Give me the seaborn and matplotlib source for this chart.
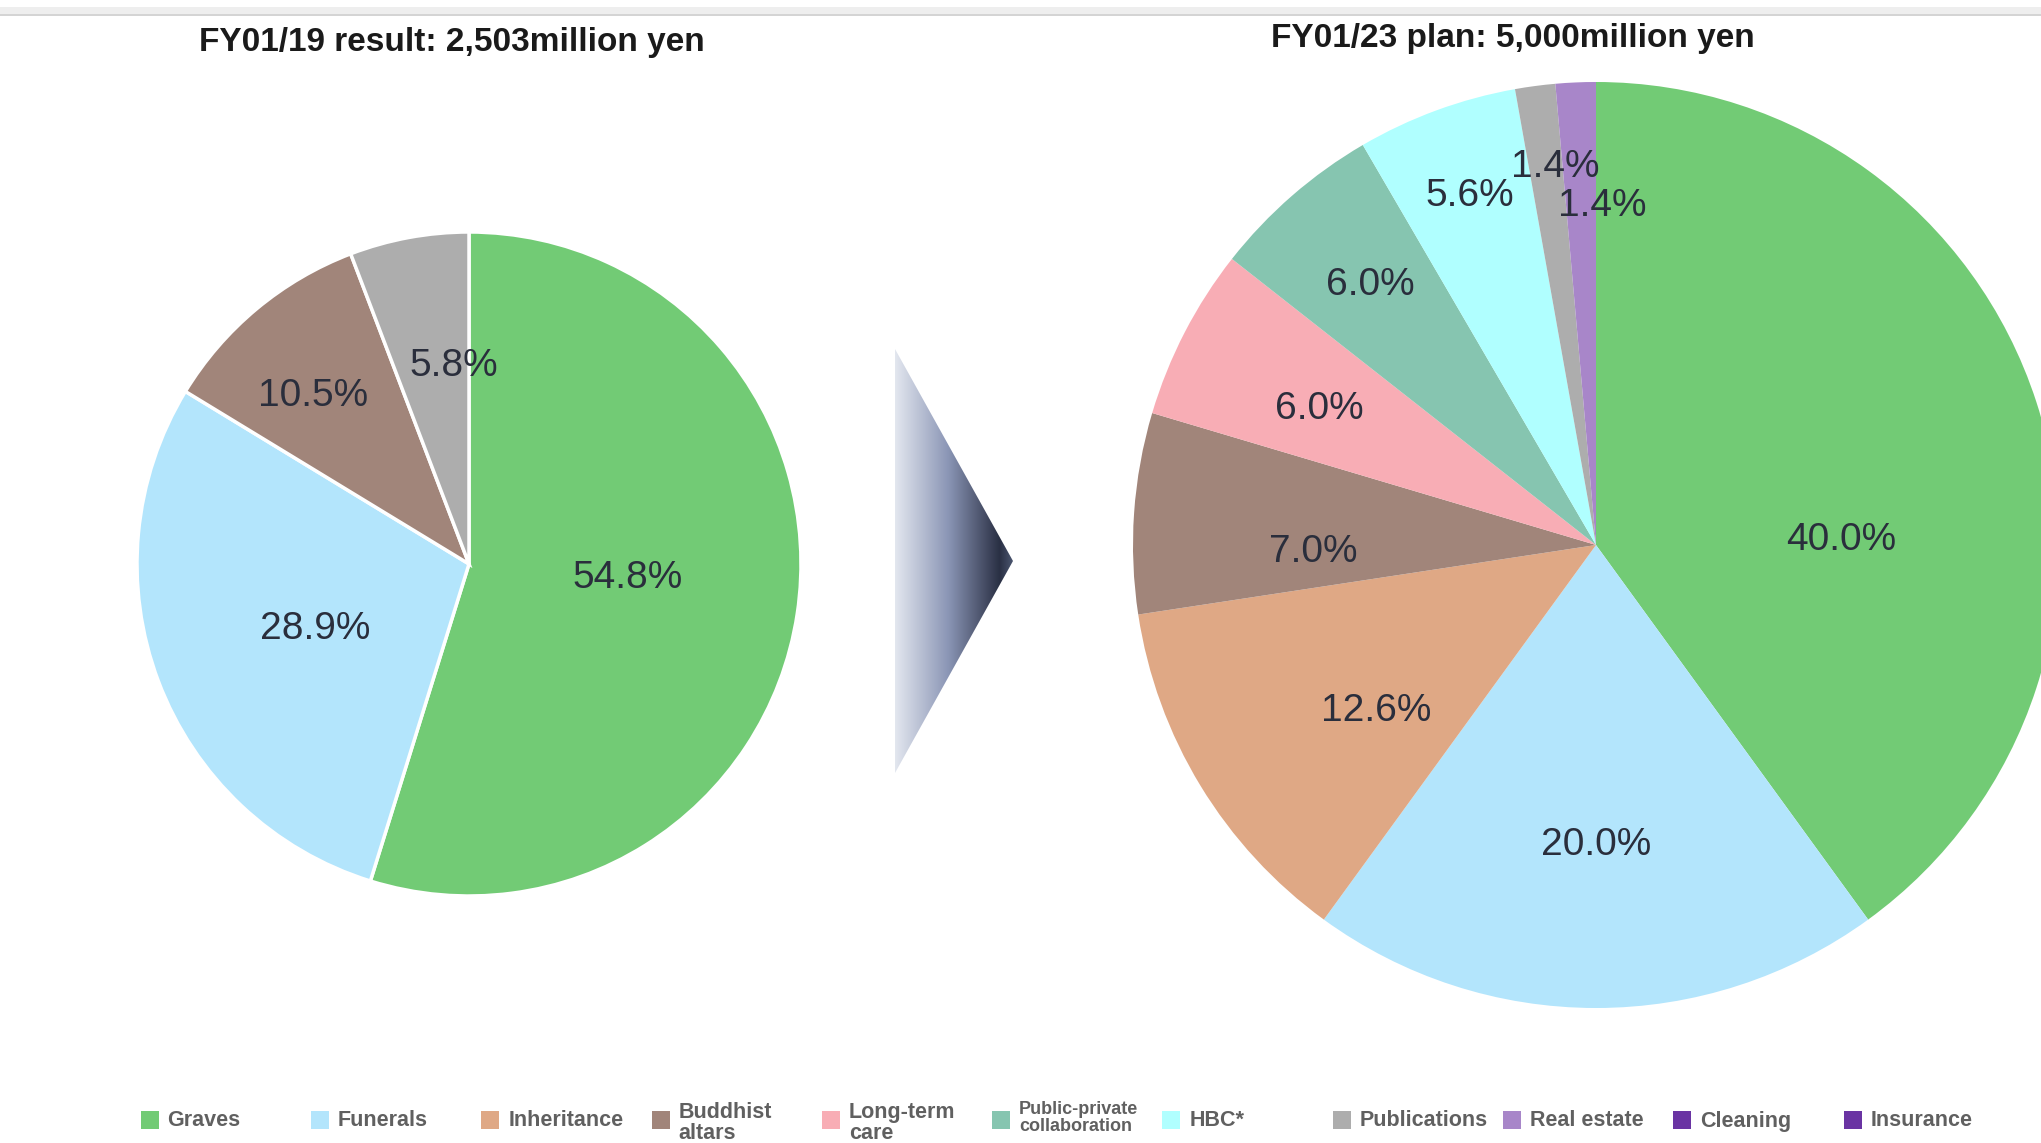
import numpy as np
import matplotlib
matplotlib.use("Agg")
import matplotlib.pyplot as plt
from matplotlib.patches import Polygon, Rectangle
from matplotlib.colors import LinearSegmentedColormap
import seaborn as sns

# ---------------- data ----------------
legend_labels = ["Graves", "Funerals", "Inheritance", "Buddhist\naltars", "Long-term\ncare",
                 "Public-private\ncollaboration", "HBC*", "Publications", "Real estate",
                 "Cleaning", "Insurance"]
legend_colors = ["#72CB75", "#B3E5FC", "#DFA885", "#A1857A", "#F8ADB5",
                 "#86C5B0", "#B0FFFF", "#ADADAD", "#A886C9", "#6A34A3", "#6A34A3"]

left_title = "FY01/19 result: 2,503million yen"
left_cats = ["Graves", "Funerals", "Buddhist\naltars", "Publications"]
left_vals = [54.8, 28.9, 10.5, 5.8]

right_title = "FY01/23 plan: 5,000million yen"
right_cats = ["Graves", "Funerals", "Inheritance", "Buddhist\naltars", "Long-term\ncare",
              "Public-private\ncollaboration", "HBC*", "Publications", "Real estate"]
right_vals = [40.0, 20.0, 12.6, 7.0, 6.0, 6.0, 5.6, 1.4, 1.4]

# label placement style (fraction of radius, angle nudge in degrees)
left_lbl_r = [0.48, 0.50, 0.70, 0.61]
left_lbl_da = [5, 1, 2.5, -6]
right_lbl_r = [0.53, 0.64, 0.59, 0.61, 0.67, 0.75, 0.81, 0.83, 0.74]
right_lbl_da = [-16, 0, 5, 4.5, 0.5, -0.5, -0.5, -1.4, -3.6]

# ---------------- style ----------------
sns.set_theme(style="white")
plt.rcParams['font.family'] = ['Liberation Sans', 'DejaVu Sans']

W, H = 2041, 1143
fig = plt.figure(figsize=(W / 100, H / 100), dpi=100)
fig.patch.set_facecolor("white")

cmap = dict(zip(legend_labels, sns.color_palette(legend_colors)))
LBL_COLOR = "#2a2e3c"


def px_axes(cx, cy, half_w, half_h):
    return fig.add_axes([(cx - half_w) / W, (H - cy - half_h) / H, 2 * half_w / W, 2 * half_h / H])


def draw_pie(cx, cy, r, cats, vals, lbl_r, lbl_da, edge):
    lim = 1.1
    ax = px_axes(cx, cy, r * lim, r * lim)
    wedges, _ = ax.pie(vals, colors=[cmap[c] for c in cats], startangle=90, counterclock=False,
                       wedgeprops=dict(edgecolor="white" if edge else "none", linewidth=2.5 if edge else 0))
    ax.set_xlim(-lim, lim)
    ax.set_ylim(-lim, lim)
    ax.set_aspect("equal")
    ax.axis("off")
    for w, v, d, da in zip(wedges, vals, lbl_r, lbl_da):
        ang = np.deg2rad((w.theta1 + w.theta2) / 2 + da)
        ax.text(d * np.cos(ang), d * np.sin(ang), f"{v:.1f}%", ha="center", va="center_baseline",
                fontsize=28, color=LBL_COLOR)
    return ax


draw_pie(469, 564, 332, left_cats, left_vals, left_lbl_r, left_lbl_da, True)
draw_pie(1596, 545, 463, right_cats, right_vals, right_lbl_r, right_lbl_da, False)

# titles
fig.text(452 / W, 1 - 43 / H, left_title, ha="center", va="center", fontsize=24,
         fontweight="bold", color="#1a1a1a")
fig.text(1513 / W, 1 - 39 / H, right_title, ha="center", va="center", fontsize=24,
         fontweight="bold", color="#1a1a1a")

# gradient arrow
axa = fig.add_axes([895 / W, (H - 773) / H, (1013 - 895) / W, (773 - 349) / H])
grad_cmap = LinearSegmentedColormap.from_list(
    "arr", [(0, "#e3e7ef"), (0.45, "#8a95b5"), (0.88, "#2a3044"), (1.0, "#4d5872")])
im = axa.imshow(np.linspace(0, 1, 256)[None, :], aspect="auto", cmap=grad_cmap,
                extent=(0, 1, 0, 1), origin="lower")
tri = Polygon([(0, 0), (1, 0.5), (0, 1)], closed=True, transform=axa.transData, facecolor="none",
              edgecolor="none")
axa.add_patch(tri)
im.set_clip_path(tri)
axa.set_xlim(0, 1)
axa.set_ylim(0, 1)
axa.axis("off")

# top strip
fig.patches.append(Rectangle((0, 1 - 14 / H), 1, 7 / H, transform=fig.transFigure,
                             facecolor="#eeeeee", edgecolor="none", zorder=0))
fig.patches.append(Rectangle((0, 1 - 15.5 / H), 1, 1.5 / H, transform=fig.transFigure,
                             facecolor="#d4d4d4", edgecolor="none", zorder=0))

# legend
for i, lab in enumerate(legend_labels):
    x0 = 140.6 + i * 170.3
    fig.patches.append(Rectangle((x0 / W, 1 - 1129 / H), 18 / W, 18 / H, transform=fig.transFigure,
                                 facecolor=cmap[lab], edgecolor="none"))
    if "\n" in lab:
        fs = 13 if lab.startswith("Public") else 15.5
        ytop = 1101 if lab.startswith("Public") else 1102
        fig.text((x0 + 27) / W, 1 - ytop / H, lab, ha="left", va="top", fontsize=fs,
                 fontweight="bold", color="#606060", linespacing=1.0)
    else:
        fig.text((x0 + 27) / W, 1 - 1121 / H, lab, ha="left", va="center", fontsize=15.5,
                 fontweight="bold", color="#606060")

fig.savefig("out.png", dpi=100)
